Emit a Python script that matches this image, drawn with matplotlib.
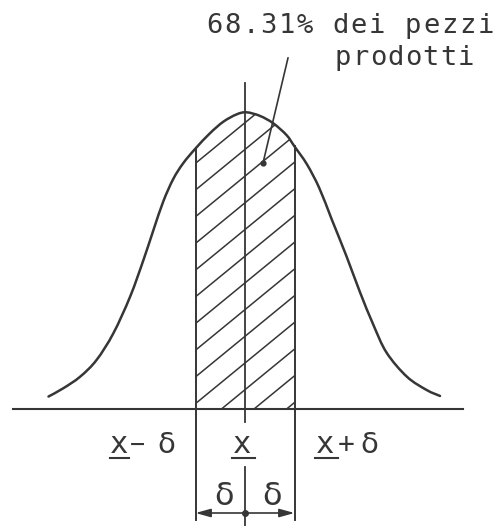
import numpy as np
import matplotlib.pyplot as plt
from matplotlib.patches import PathPatch, FancyArrowPatch
from matplotlib.path import Path

# curva: ascissa in unita' di sigma, ordinata relativa al picco
curve_x = [-3.97, -3.67, -3.33, -3.0, -2.66, -2.32, -2.05, -1.85, -1.65, -1.45,
           -1.25, -1.0, -0.71, -0.44, -0.17, 0.03, 0.30, 0.57, 0.84, 1.0,
           1.25, 1.5, 1.75, 2.05, 2.32, 2.59, 2.86, 3.27, 3.67, 3.94]
curve_y = [0.042, 0.070, 0.109, 0.165, 0.255, 0.379, 0.503, 0.603, 0.700, 0.775,
           0.828, 0.878, 0.929, 0.968, 0.993, 1.0, 0.988, 0.963, 0.923, 0.885,
           0.825, 0.745, 0.64, 0.515, 0.395, 0.285, 0.19, 0.109, 0.064, 0.044]
band = [-1.0, 1.0]  # x - sigma, x + sigma
note_lines = ['68.31% dei pezzi', 'prodotti']
sym = 'δ'

# riferimento in pixel del disegno originale
X0, SIG, BASE, PEAK = 245.0, 49.5, 409.0, 296.7


def to_x(px):
    return (px - X0) / SIG


def to_y(py):
    return (BASE - py) / PEAK


def smooth_segments(P, i0, i1):
    # tratti di Bezier (Catmull-Rom) che passano per i punti letti
    n = len(P)
    verts, codes = [], []
    for i in range(i0, i1):
        p0 = P[max(i - 1, 0)]
        p1, p2 = P[i], P[i + 1]
        p3 = P[min(i + 2, n - 1)]
        verts += [p1 + (p2 - p0) / 6, p2 - (p3 - p1) / 6, p2]
        codes += [Path.CURVE4] * 3
    return verts, codes


col = '#363636'
mono = 'DejaVu Sans Mono'

fig = plt.figure(figsize=(4.99, 5.26), dpi=100)
ax = fig.add_axes([0, 0, 1, 1])
ax.set_xlim(to_x(0), to_x(499))
ax.set_ylim(to_y(526), to_y(0))
ax.axis('off')

P = np.column_stack([curve_x, curve_y])

# curva e asse
v, c = smooth_segments(P, 0, len(P) - 1)
ax.add_patch(PathPatch(Path([P[0]] + v, [Path.MOVETO] + c), fill=False, edgecolor=col,
                       lw=1.8, capstyle='round'))
ax.plot([to_x(13), to_x(463)], [0, 0], color=col, lw=1.5)

# zona tratteggiata
i_l = curve_x.index(band[0])
i_r = curve_x.index(band[1])
y_l, y_r = curve_y[i_l], curve_y[i_r]
v, c = smooth_segments(P, i_l, i_r)
clip = PathPatch(Path([(band[0], 0), P[i_l]] + v + [(band[1], 0), (band[0], 0)],
                      [Path.MOVETO, Path.LINETO] + c + [Path.LINETO, Path.CLOSEPOLY]),
                 facecolor='none', edgecolor='none')
ax.add_patch(clip)
slope = 0.82 * SIG / PEAK
gap = 26.7 / PEAK
for k in np.arange(to_y(190) - 12 * gap, to_y(190) + 6 * gap, gap):
    xs = np.array([band[0] - 0.2, band[1] + 0.2])
    ln, = ax.plot(xs, k + slope * (xs - band[0]), color=col, lw=1.1)
    ln.set_clip_path(clip)

# linee verticali
ax.plot([band[0], band[0]], [y_l, to_y(520)], color=col, lw=1.4)
ax.plot([band[1], band[1]], [y_r, to_y(520)], color=col, lw=1.4)
ax.plot([0, 0], [to_y(83), to_y(422)], color=col, lw=1.3)
ax.plot([0, 0], [to_y(467), to_y(526)], color=col, lw=1.3)

# quota sigma
yd = to_y(513)
for b in band:
    ax.add_patch(FancyArrowPatch((0, yd), (b, yd), arrowstyle='-|>,head_length=0.9,head_width=0.25',
                                 mutation_scale=10, shrinkA=0, shrinkB=0, lw=1.2, color=col))
ax.plot(0, yd, 'o', ms=4, color=col)
ax.text(to_x(223.5), to_y(505), sym, fontsize=23, color=col, ha='center', va='baseline')
ax.text(to_x(272.5), to_y(505), sym, fontsize=23, color=col, ha='center', va='baseline')

# etichette sull'asse
lab_y = to_y(453)
for px_c, u0, u1 in [(119, 110, 129), (242.5, 232, 255), (325, 315, 338)]:
    ax.text(to_x(px_c), lab_y, 'x', fontsize=22, family=mono, color=col, ha='center', va='baseline')
    ax.plot([to_x(u0), to_x(u1)], [to_y(458), to_y(458)], color=col, lw=1.5)
ax.text(to_x(137), to_y(445), '−', fontsize=18, family=mono, color=col, ha='center', va='center')
ax.text(to_x(166.5), lab_y, sym, fontsize=21, color=col, ha='center', va='baseline')
ax.text(to_x(346), to_y(445), '+', fontsize=20, family=mono, color=col, ha='center', va='center')
ax.text(to_x(369.5), lab_y, sym, fontsize=21, color=col, ha='center', va='baseline')


# nota in alto, lettere a passo fisso come nel disegno
def spaced(px_first, py_base, s, pitch):
    for i, ch in enumerate(s):
        ax.text(to_x(px_first + i * pitch), to_y(py_base), ch, fontsize=19.5, family=mono,
                color=col, ha='center', va='baseline')


spaced(214, 33, note_lines[0], 18.1)
spaced(343, 65, note_lines[1], 17.5)

# freccia di richiamo
ax.plot([to_x(288), to_x(263)], [to_y(58), to_y(163)], color=col, lw=1.2)
ax.plot(to_x(263), to_y(163), 'o', ms=3.5, color=col)

plt.savefig('out.png', dpi=100, facecolor='white')
